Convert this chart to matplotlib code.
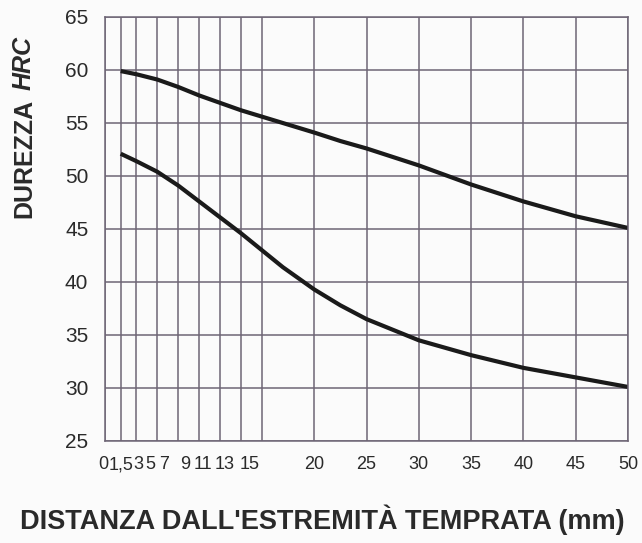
import numpy as np
import matplotlib.pyplot as plt
from matplotlib.transforms import ScaledTranslation

# distanza dall'estremita temprata (mm)
distanza = [1.5, 3, 5, 7, 9, 11, 13, 15, 17, 20, 22.5, 25, 30, 35, 40, 45, 50]

# curve di durezza HRC (limite superiore e inferiore)
hrc_max = [59.9, 59.6, 59.1, 58.4, 57.6, 56.9, 56.2, 55.6, 55.0, 54.1, 53.3, 52.6, 51.0, 49.2, 47.6, 46.2, 45.1]
hrc_min = [52.1, 51.4, 50.4, 49.1, 47.6, 46.1, 44.6, 43.0, 41.4, 39.3, 37.8, 36.5, 34.5, 33.1, 31.9, 31.0, 30.1]

x_ticks = [0, 1.5, 3, 5, 7, 9, 11, 13, 15, 20, 25, 30, 35, 40, 45, 50]
x_labels = ["0", "1,5", "3", "5", "7", "9", "11", "13", "15", "20", "25", "30", "35", "40", "45", "50"]
y_ticks = [25, 30, 35, 40, 45, 50, 55, 60, 65]

W, H = 642, 543
grid_col = "#6e6575"
txt_col = "#2a2a2a"
font = ["Liberation Sans", "DejaVu Sans"]

fig = plt.figure(figsize=(W / 100, H / 100), dpi=100)
fig.patch.set_facecolor("#fbfbfb")
ax = fig.add_axes([105 / W, 1 - 441 / H, (628 - 105) / W, (441 - 17) / H])
ax.set_facecolor("#fbfbfb")

ax.plot(distanza, hrc_max, color="#1a1a1a", lw=3.0, solid_capstyle="butt")
ax.plot(distanza, hrc_min, color="#1a1a1a", lw=3.0, solid_capstyle="butt")

ax.set_xlim(0, 50)
ax.set_ylim(25, 65)
ax.set_xticks(x_ticks)
ax.set_xticklabels(x_labels, family=font, fontsize=13, color=txt_col)
ax.set_yticks(y_ticks)
ax.set_yticklabels([str(v) for v in y_ticks], family=font, fontsize=15, color=txt_col)
ax.tick_params(axis="x", length=0, pad=11)
ax.tick_params(axis="y", length=0, pad=12)

# nel disegno originale le etichette 3..15 sono spostate a sinistra (pixel)
shift_px = [-2, 0, 2, -7, -14, -14, -17, -16, -12, 0, 0, 0, 0, 0, 0, 0]
for lab, dx in zip(ax.get_xticklabels(), shift_px):
    lab.set_transform(lab.get_transform() + ScaledTranslation(dx / 100, 0, fig.dpi_scale_trans))

ax.grid(True, color=grid_col, lw=1.1)
ax.set_axisbelow(True)
for s in ax.spines.values():
    s.set_color(grid_col)
    s.set_linewidth(1.1)

# titoli assi
fig.text(24 / W, 1 - 218 / H, "DUREZZA", rotation=90, ha="center", va="bottom",
         fontsize=18, fontweight="bold", family=font, color=txt_col)
fig.text(24 / W, 1 - 90 / H, "HRC", rotation=90, ha="center", va="bottom",
         fontsize=18, fontweight="bold", fontstyle="italic", family=font, color=txt_col)
fig.text(322 / W, 1 - 520 / H, "DISTANZA DALL'ESTREMITÀ TEMPRATA (mm)", ha="center", va="center",
         fontsize=19.5, fontweight="bold", family=font, color=txt_col)

fig.savefig("out.png", dpi=100, facecolor=fig.get_facecolor())
